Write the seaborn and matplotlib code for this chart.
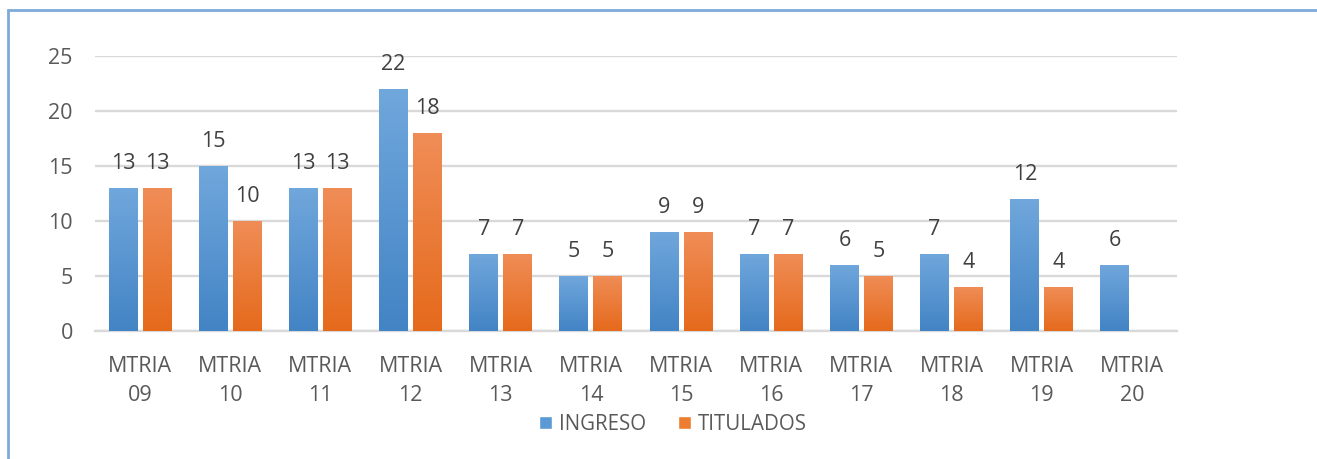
import numpy as np
import pandas as pd
import matplotlib
matplotlib.use("Agg")
import matplotlib.pyplot as plt
from matplotlib.patches import Patch, Rectangle
from matplotlib.colors import LinearSegmentedColormap
import seaborn as sns

categories = ["MTRIA\n09", "MTRIA\n10", "MTRIA\n11", "MTRIA\n12", "MTRIA\n13", "MTRIA\n14",
              "MTRIA\n15", "MTRIA\n16", "MTRIA\n17", "MTRIA\n18", "MTRIA\n19", "MTRIA\n20"]
ingreso = [13, 15, 13, 22, 7, 5, 9, 7, 6, 7, 12, 6]
titulados = [13, 10, 13, 18, 7, 5, 9, 7, 5, 4, 4, np.nan]
series = ["INGRESO", "TITULADOS"]
y_ticks = [0, 5, 10, 15, 20, 25]

df = pd.DataFrame({"cat": categories * 2,
                   "serie": [series[0]] * len(categories) + [series[1]] * len(categories),
                   "valor": ingreso + titulados})

sns.set_style("white")
plt.rcParams["font.family"] = ["Open Sans", "DejaVu Sans"]
txt = "#595959"
colours = {"INGRESO": "#5b9bd5", "TITULADOS": "#ed7d31"}
grads = {"INGRESO": ("#4384c5", "#70a7dc"), "TITULADOS": ("#e56a1c", "#f08d57")}

fig = plt.figure(figsize=(13.17, 4.59), dpi=100)
ax = fig.add_axes([95 / 1317, 1 - 331 / 459, (1177 - 95) / 1317, 275 / 459])

sns.barplot(data=df, x="cat", y="valor", hue="serie", order=categories, hue_order=series,
            palette=colours, width=0.754, gap=0.147, legend=False, ax=ax, zorder=3)

ax.set_ylim(0, 25)
ax.set_xlim(-0.5, len(categories) - 0.5)
ax.set_yticks(y_ticks)
ax.yaxis.grid(True, color="#d9d9d9", lw=1.7, zorder=0)
ax.set_axisbelow(True)
for s in ["top", "right", "left"]:
    ax.spines[s].set_visible(False)
ax.spines["bottom"].set_color("#d9d9d9")
ax.spines["bottom"].set_linewidth(1.7)
ax.tick_params(axis="y", length=0, pad=16, labelsize=15.5, labelcolor=txt)
ax.tick_params(axis="x", length=0, pad=18, labelsize=15.5, labelcolor=txt)
for lab in ax.get_xticklabels():
    lab.set_linespacing(1.5)
ax.set_xlabel("")
ax.set_ylabel("")

# gradient fill + value labels
for i, cont in enumerate(ax.containers):
    name = series[i]
    cmap = LinearSegmentedColormap.from_list(name, grads[name])
    for bar in cont:
        h = bar.get_height()
        if np.isnan(h) or h == 0:
            continue
        x0 = bar.get_x()
        w = bar.get_width()
        grad = np.linspace(0, 1, 100).reshape(-1, 1)
        im = ax.imshow(grad, cmap=cmap, origin="lower", aspect="auto",
                       extent=[x0, x0 + w, 0, h], zorder=3)
        im.set_clip_path(bar)
        bar.set_facecolor("none")
        bar.set_edgecolor("none")
        ax.annotate(f"{int(h)}", (x0 + w / 2, h), xytext=(0, 10), textcoords="offset points",
                    ha="center", va="bottom", fontsize=15.5, color="#404040")
ax.set_xlim(-0.5, len(categories) - 0.5)
ax.set_ylim(0, 25)

handles = [Patch(facecolor=colours[s], label=s) for s in series]
fig.legend(handles=handles, loc="center", bbox_to_anchor=(673 / 1317, 1 - 424 / 459), ncol=2,
           frameon=False, fontsize=14.8, labelcolor=txt, handlelength=0.63, handleheight=0.63,
           handletextpad=0.34, columnspacing=1.55)

fig.patches.append(Rectangle((8 / 1317, -0.1), 1.2, 1 - 10 / 459 + 0.1, transform=fig.transFigure,
                             fill=False, edgecolor="#7fa9db", lw=2))

fig.savefig("out.png", dpi=100)
